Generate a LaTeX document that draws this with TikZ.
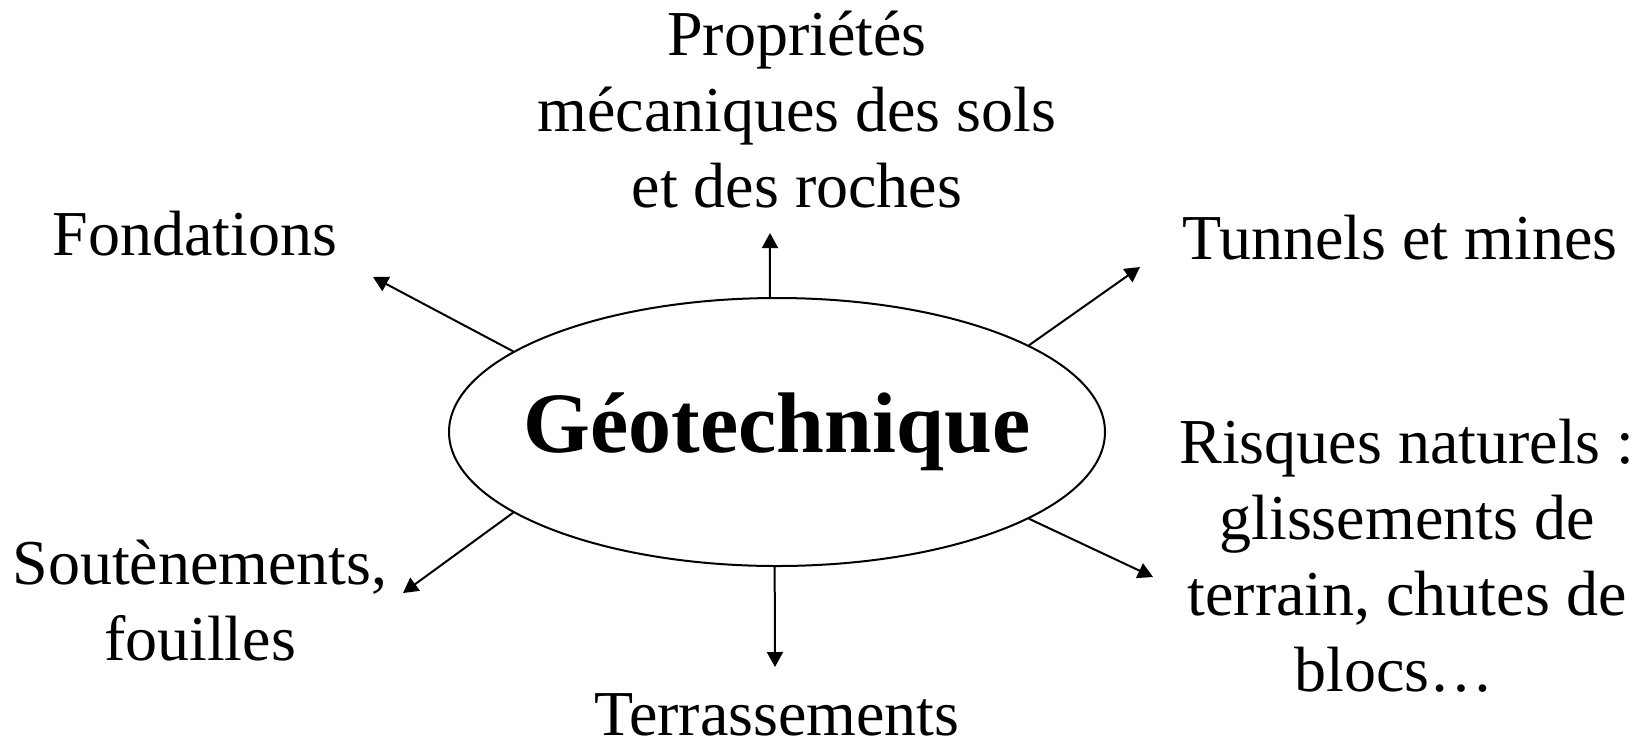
\documentclass[tikz,border=0pt]{standalone}
\usepackage{fontspec}
\setmainfont{Liberation Serif}
\usetikzlibrary{shapes.geometric,arrows.meta}
\tikzset{
  lbl/.style={align=center,inner sep=0pt,font=\fontsize{32}{38}\selectfont},
  link/.style={-{Triangle[length=7.5pt,width=8pt]},line width=1pt}
}
\begin{document}
\begin{tikzpicture}[x=0.5pt,y=-0.5pt]
  \useasboundingbox (0,0) rectangle (1650,741);
  \node[draw,ellipse,line width=1pt,minimum width=328pt,minimum height=134pt,inner sep=0pt,
    inner xsep=-14pt,font=\fontsize{43}{50}\selectfont\bfseries] (geo) at (777,432) {Géotechnique};
  \node[lbl] (prop) at (797,110) {Propriétés\\mécaniques des sols\\et des roches};
  \node[lbl] (fond) at (195,234) {Fondations};
  \node[lbl] (tunn) at (1400,238) {Tunnels et mines};
  \node[lbl] (risq) at (1407,556) {Risques naturels :\\glissements de\\terrain, chutes de\\blocs…\hspace*{13pt}};
  \node[lbl] (sout) at (200,601) {Soutènements,\\fouilles};
  \node[lbl] (terr) at (777,715) {Terrassements};
  \coordinate (proptip) at (770,233);
  \coordinate (fondtip) at (373,277);
  \coordinate (tunntip) at (1140,267);
  \coordinate (risqtip) at (1153,577);
  \coordinate (souttip) at (403,593);
  \coordinate (terrtip) at (775,667);
  \draw[link] (geo.93) -- (proptip);
  \draw[link] (geo.163) -- (fondtip);
  \draw[link] (geo.19) -- (tunntip);
  \draw[link] (geo.-19) -- (risqtip);
  \draw[link] (geo.197) -- (souttip);
  \draw[link] (geo.269) -- (terrtip);
\end{tikzpicture}
\end{document}
